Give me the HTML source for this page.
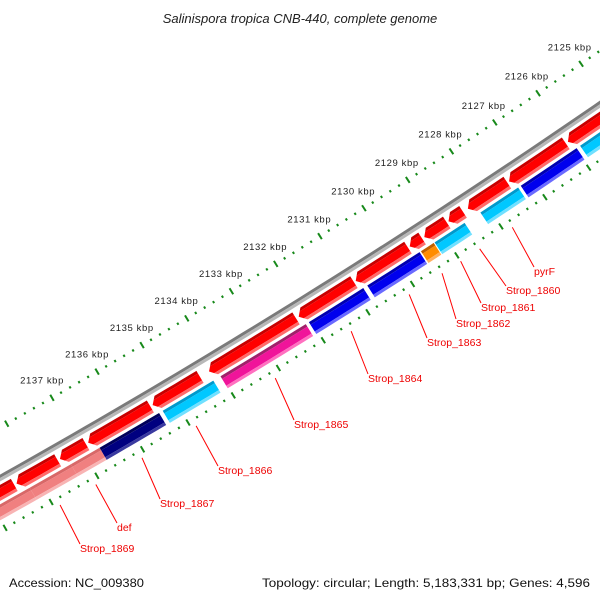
<!DOCTYPE html>
<html><head><meta charset="utf-8">
<style>
html,body{margin:0;padding:0;background:#fff;}
svg{display:block;}
text{font-family:"Liberation Sans",sans-serif;}
</style></head>
<body>
<svg id="chart" width="600" height="600" viewBox="0 0 600 600" xmlns="http://www.w3.org/2000/svg">
<rect width="600" height="600" fill="#fff"/>
<text x="300" y="23" text-anchor="middle" font-size="13" font-style="italic" fill="#222">Salinispora tropica CNB-440, complete genome</text>
<g id="ticks"></g>
<g id="backbone"></g>
<g id="features"></g>
<g id="labels"></g>
<text x="9" y="587" font-size="12" fill="#111" textLength="135" lengthAdjust="spacingAndGlyphs">Accession: NC_009380</text>
<text x="262" y="587" font-size="12" fill="#111" textLength="328" lengthAdjust="spacingAndGlyphs">Topology: circular; Length: 5,183,331 bp; Genes: 4,596</text>
</svg>
<script>
// ---- data (kbp) ----
const fwdStarts = [2124.8, 2126.1, 2127.44, 2128.45, 2128.82, 2129.38, 2129.70, 2130.92, 2132.22, 2134.36, 2135.46, 2136.88, 2137.50, 2138.45];
const fwdEnds   = [2126.05, 2127.4, 2128.34, 2128.78, 2129.33, 2129.66, 2130.88, 2132.16, 2134.16, 2135.41, 2136.83, 2137.45, 2138.40, 2139.6];
const revStarts = [2124.8, 2125.98, 2127.32, 2128.54, 2129.24, 2129.56, 2130.83, 2132.12, 2134.18, 2135.38, 2136.69, 2137.32, 2138.22];
const revEnds   = [2125.90, 2127.26, 2128.18, 2129.22, 2129.53, 2130.74, 2132.05, 2134.02, 2135.30, 2136.69, 2137.32, 2138.22, 2139.6];
const revTypes  = ["cyan","blue","cyan","cyan","orange","blue","blue","magenta","cyan","navy","pink","pink","pink"];
const labelNames = ["pyrF","Strop_1860","Strop_1861","Strop_1862","Strop_1863","Strop_1864","Strop_1865","Strop_1866","Strop_1867","def","Strop_1869"];
const labelKbp   = [2127.83, 2128.57, 2129.0, 2129.42, 2130.16, 2131.46, 2133.15, 2134.90, 2136.09, 2137.10, 2137.88];
const tickLabels = [2125,2126,2127,2128,2129,2130,2131,2132,2133,2134,2135,2136,2137];

// ---- layout ----
const labelX = [534,506,481,456,427,368,294,218,160,117,80];
const labelY = [275,294,311,327,346,382,428,474,507,531,552];
const CX=-3797, CY=-6285, RG=7756;
const A0=55.41, DEG_PER_KBP=0.3875;
function ang(k){return (A0+(k-2125)*DEG_PER_KBP)*Math.PI/180;}
function pt(k,r){const a=ang(k);return [CX+r*Math.cos(a), CY+r*Math.sin(a)];}
const NS="http://www.w3.org/2000/svg";
function mk(tag,parent){const e=document.createElementNS(NS,tag);parent.appendChild(e);return e;}
function arcPts(k1,k2,r){const out=[];const n=Math.max(2,Math.ceil(Math.abs(k2-k1)/0.25)+1);for(let i=0;i<n;i++){out.push(pt(k1+(k2-k1)*i/(n-1),r));}return out;}

const colors={
 red:["#c80000","#ff0000","#ff6a6a"],
 cyan:["#0099cc","#00c8ff","#70e0ff"],
 blue:["#0000b0","#0000ee","#6a6aff"],
 orange:["#c06000","#ff8c00","#ffb060"],
 magenta:["#a0206a","#f0149a","#ff70c0"],
 navy:["#00005a","#000080","#3a3aa0"],
 pink:["#d86868","#f08080","#f8b4b4"]
};

// ticks
const tg=document.getElementById('ticks');
const rings=[RG-44, RG+46];
for(let ri=0;ri<rings.length;ri++){
  const r=rings[ri];
  for(let k=2124.4;k<=2139.8;k+=0.2){
    const kk=Math.round(k*10)/10;
    const major=Math.abs(kk-Math.round(kk))<1e-6;
    const h=major?3.5:1.2;
    const p1=pt(kk,r-h),p2=pt(kk,r+h);
    const l=mk('line',tg);
    
    
    l.setAttribute('x1',p1[0]);l.setAttribute('y1',p1[1]);l.setAttribute('x2',p2[0]);l.setAttribute('y2',p2[1]);
    l.setAttribute('stroke','#17891a');l.setAttribute('stroke-width','2');
  }
}
for(let i=0;i<tickLabels.length;i++){
  const p=pt(tickLabels[i],RG-44-20);
  const t=mk('text',tg);
  
  
  t.setAttribute('x',p[0]);t.setAttribute('y',p[1]+3);
  t.setAttribute('text-anchor','middle');t.setAttribute('font-size','9.5');t.setAttribute('fill','#222');
  t.setAttribute('letter-spacing','0.6');
  t.textContent=tickLabels[i]+' kbp';
}

// backbone
const bg=document.getElementById('backbone');
function band(parent,k1,k2,r0,r1,fill,name){
  const pts=arcPts(k1,k2,r0).concat(arcPts(k2,k1,r1));
  const p=mk('polygon',parent);
  
  
  p.setAttribute('points',pts.map(q=>q[0].toFixed(2)+','+q[1].toFixed(2)).join(' '));
  p.setAttribute('fill',fill);
  return p;
}
band(bg,2124,2140,RG-3,RG,'#7a7a7a','backbone-top');
band(bg,2124,2140,RG,RG+3,'#b8b8b8','backbone-bottom');

// features
const fg=document.getElementById('features');
const FR0=RG+6, FR1=RG+20, RR0=RG+23, RR1=RG+37, HEAD=0.12;
function arrowSlice(parent,k1,k2,r0,r1,ra,rb,fill,name){
  const rm=(r0+r1)/2;
  const tip=r=>k2-HEAD*Math.abs(r-rm)/(rm-r0);
  let pts=arcPts(k1,tip(ra),ra);
  if(ra<rm&&rb>rm) pts.push(pt(k2,rm));
  pts.push(pt(tip(rb),rb));
  pts=pts.concat(arcPts(tip(rb),k1,rb));
  const p=mk('polygon',parent);
  
  
  p.setAttribute('points',pts.map(q=>q[0].toFixed(2)+','+q[1].toFixed(2)).join(' '));
  p.setAttribute('fill',fill);
}
for(let i=0;i<fwdStarts.length;i++){
  const g=mk('g',fg);
  
  
  const c=colors.red, k1=fwdStarts[i], k2=fwdEnds[i];
  const t1=FR0+3, t2=FR1-3;
  arrowSlice(g,k1,k2,FR0,FR1,FR0,t1,c[0],'arrow-dark');
  arrowSlice(g,k1,k2,FR0,FR1,t1,t2,c[1],'arrow-main');
  arrowSlice(g,k1,k2,FR0,FR1,t2,FR1,c[2],'arrow-light');
}
for(let i=0;i<revStarts.length;i++){
  const g=mk('g',fg);
  
  
  const c=colors[revTypes[i]], k1=revStarts[i], k2=revEnds[i];
  band(g,k1,k2,RR0,RR0+3,c[0],'gene-dark');
  band(g,k1,k2,RR0+3,RR1-3,c[1],'gene-main');
  band(g,k1,k2,RR1-3,RR1,c[2],'gene-light');
}

// labels
const lg=document.getElementById('labels');
for(let i=0;i<labelNames.length;i++){
  const s=pt(labelKbp[i],RG+53);
  const l=mk('line',lg);
  
  
  l.setAttribute('x1',s[0]);l.setAttribute('y1',s[1]);
  l.setAttribute('x2',labelX[i]);l.setAttribute('y2',labelY[i]-8);
  l.setAttribute('stroke','#ff0000');l.setAttribute('stroke-width','1');
  const t=mk('text',lg);
  
  
  t.setAttribute('x',labelX[i]);t.setAttribute('y',labelY[i]);
  t.setAttribute('font-size','10.5');t.setAttribute('fill','#ee0000');
  t.textContent=labelNames[i];
}
</script>
</body></html>
